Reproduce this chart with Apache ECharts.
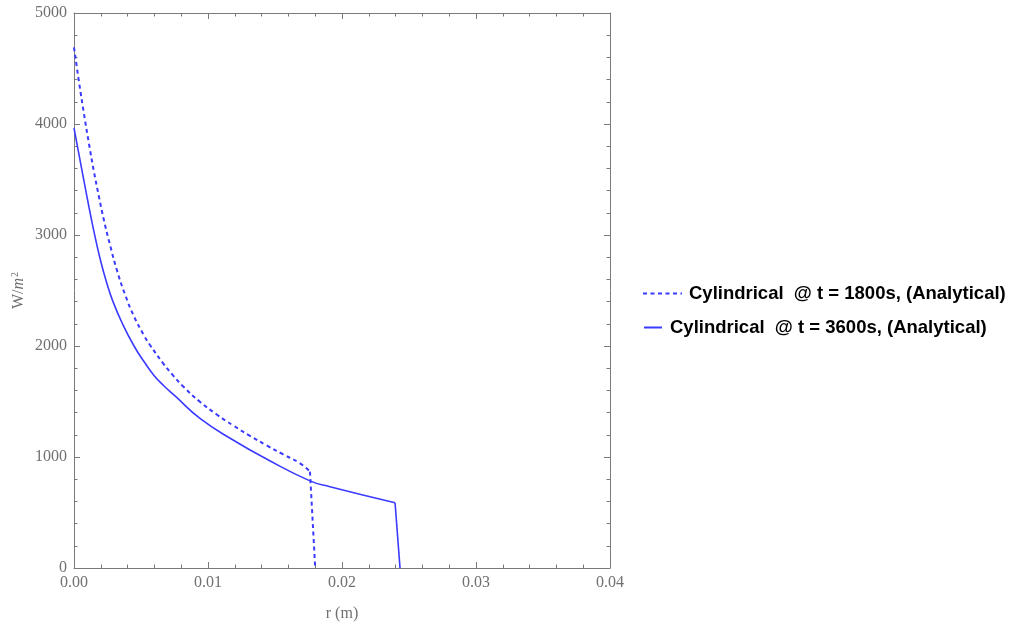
<!DOCTYPE html>
<html><head><meta charset="utf-8">
<script src="https://cdn.jsdelivr.net/npm/echarts@6/dist/echarts.min.js"></script>
<style>html,body{margin:0;padding:0;background:#fff}#c{width:1013px;height:625px}</style>
</head><body><div id="c"></div>
<script>
const xTicks = [0, 0.01, 0.02, 0.03, 0.04];
const yTicks = [0, 1000, 2000, 3000, 4000, 5000];
const seriesNames = ['Cylindrical  @ t = 1800s, (Analytical)', 'Cylindrical  @ t = 3600s, (Analytical)'];
// t = 1800 s: curve part and drop-off
const r1800 = [0, 0.000373, 0.000746, 0.00112, 0.00149, 0.00187, 0.00224, 0.00269, 0.00321, 0.00381, 0.00448,
  0.00522, 0.00567, 0.00664, 0.00739, 0.00813, 0.0094, 0.01065, 0.01189, 0.01313, 0.01438, 0.01562, 0.01687, 0.01761];
const q1800 = [4690, 4380, 4090, 3820, 3570, 3340, 3130, 2910, 2680, 2464, 2266,
  2096, 2009, 1846, 1736, 1638, 1497, 1383, 1283, 1191, 1104, 1023, 943, 868];
const r1800Drop = [0.01761, 0.0180];
const q1800Drop = [868, 0];
// t = 3600 s: curve part and drop-off
const r3600 = [0, 0.000373, 0.000746, 0.00112, 0.00149, 0.00194, 0.00239, 0.00291, 0.00366, 0.00448,
  0.00522, 0.00597, 0.00672, 0.00754, 0.0094, 0.01187, 0.0144, 0.01761, 0.0191, 0.02396];
const q3600 = [3964, 3725, 3485, 3250, 3030, 2790, 2590, 2400, 2190, 2000,
  1860, 1735, 1640, 1550, 1348, 1153, 980, 785, 732, 588];
const r3600Drop = [0.02396, 0.02433];
const q3600Drop = [588, 0];

const blue = '#3b3bff';
const lblColor = '#707070';
const axisColor = '#7a7a7a';
const chart = echarts.init(document.getElementById('c'));
const pair = (xs, ys) => xs.map((x, i) => [x, ys[i]]);
const mkAxis = (extra) => Object.assign({
  axisLine: {show: true, onZero: false, lineStyle: {color: axisColor, width: 1}},
  axisTick: {show: true, inside: true, length: 6, lineStyle: {color: axisColor}},
  minorTick: {show: true, splitNumber: 5, length: 3.5, lineStyle: {color: axisColor}},
  splitLine: {show: false},
  minorSplitLine: {show: false}
}, extra);
const labelFont = {fontFamily: 'Liberation Serif', fontSize: 16, color: lblColor};
const legendText = (pad) => ({fontFamily: 'Liberation Sans', fontWeight: 'bold', fontSize: 18.5, color: '#000', padding: [0, 0, 0, pad]});
const dashStyle = {color: blue, width: 2, type: [4, 3.5]};
const solidStyle = {color: blue, width: 1.6};
chart.setOption({
  animation: false,
  grid: {left: 74, right: 403, top: 13, bottom: 57, containLabel: false, outerBoundsMode: 'none'},
  xAxis: [
    mkAxis({
      type: 'value', min: xTicks[0], max: xTicks[xTicks.length - 1], interval: 0.01,
      name: 'r (m)', nameLocation: 'middle', nameGap: 38,
      nameTextStyle: {fontFamily: 'Liberation Serif', fontSize: 16, color: lblColor},
      axisLabel: Object.assign({margin: 7, formatter: v => v.toFixed(2)}, labelFont)
    }),
    mkAxis({
      type: 'value', position: 'top', min: xTicks[0], max: xTicks[xTicks.length - 1], interval: 0.01,
      axisLabel: {show: false}
    })
  ],
  yAxis: [
    mkAxis({
      type: 'value', min: yTicks[0], max: yTicks[yTicks.length - 1], interval: 1000,
      name: '{a|W/}{b|m}{c|2}', nameLocation: 'middle', nameGap: 47, nameRotate: 90, nameMoveOverlap: false,
      nameTextStyle: {rich: {
        a: {fontFamily: 'Liberation Serif', fontSize: 16, color: lblColor},
        b: {fontFamily: 'Liberation Serif', fontStyle: 'italic', fontSize: 16, color: lblColor},
        c: {fontFamily: 'Liberation Serif', fontSize: 10, color: lblColor, verticalAlign: 'bottom', padding: [0, 0, 7, 1]}
      }},
      axisLabel: Object.assign({margin: 7, formatter: v => String(v)}, labelFont)
    }),
    mkAxis({
      type: 'value', position: 'right', min: yTicks[0], max: yTicks[yTicks.length - 1], interval: 1000,
      axisLabel: {show: false}
    })
  ],
  legend: [
    {data: [seriesNames[0]], left: 637, top: 279, itemWidth: 39, itemHeight: 12,
      itemStyle: {opacity: 0}, textStyle: legendText(2)},
    {data: [seriesNames[1]], left: 638, top: 313, itemWidth: 18, itemHeight: 12,
      itemStyle: {opacity: 0}, textStyle: legendText(3)}
  ],
  series: [
    {name: seriesNames[0], type: 'line', data: pair(r1800, q1800), showSymbol: false, symbol: 'none',
      smooth: 0.5, lineStyle: dashStyle, itemStyle: {color: blue}},
    {name: seriesNames[0], type: 'line', data: pair(r1800Drop, q1800Drop), showSymbol: false, symbol: 'none',
      lineStyle: dashStyle, itemStyle: {color: blue}},
    {name: seriesNames[1], type: 'line', data: pair(r3600, q3600), showSymbol: false, symbol: 'none',
      smooth: 0.5, lineStyle: solidStyle, itemStyle: {color: blue}},
    {name: seriesNames[1], type: 'line', data: pair(r3600Drop, q3600Drop), showSymbol: false, symbol: 'none',
      lineStyle: solidStyle, itemStyle: {color: blue}}
  ]
});
</script></body></html>
